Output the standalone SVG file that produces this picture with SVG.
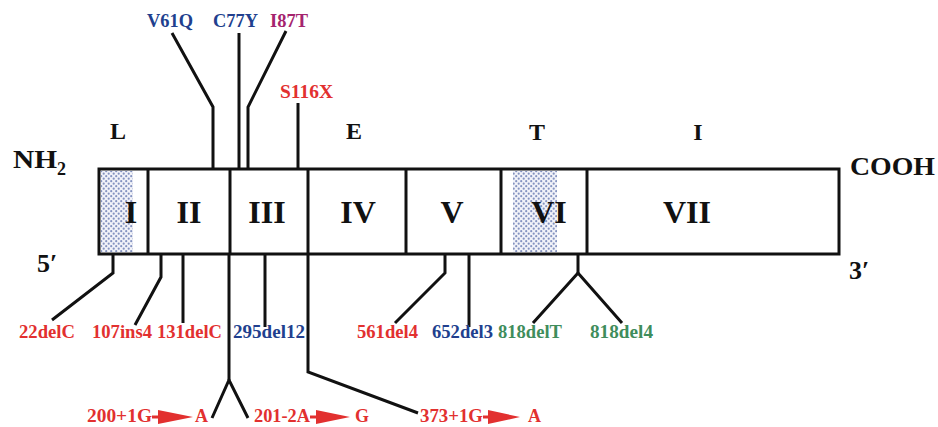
<svg xmlns="http://www.w3.org/2000/svg" width="938" height="427" viewBox="0 0 938 427">
  <defs>
    <pattern id="stipple" width="5" height="5" patternUnits="userSpaceOnUse">
      <rect width="5" height="5" fill="#f2f3f9"/>
      <circle cx="1.2" cy="1.2" r="1.1" fill="#8493c0"/>
      <circle cx="3.7" cy="3.7" r="1.1" fill="#8493c0"/>
    </pattern>
  </defs>
  <style>
    text { font-family: "Liberation Serif", "Times New Roman", serif; font-weight: bold; }
    .dom { font-size: 32px; fill: #111; text-anchor: middle; }
    .reg { font-size: 24px; fill: #111; text-anchor: middle; }
    .term { font-size: 26px; fill: #111; }
    .sub { font-size: 18px; fill: #111; }
    .mut { font-size: 18px; }
    .red { fill: #e2302f; }
    .blue { fill: #213f8e; }
    .mag { fill: #a5246e; }
    .green { fill: #3f8d5c; }
    .ln { fill: none; stroke: #111; stroke-width: 3; stroke-linejoin: miter; }
    .box { fill: #fff; stroke: #111; stroke-width: 3; }
    .arr { fill: #e2302f; }
    .arrl { stroke: #e2302f; stroke-width: 3; }
  </style>

  <!-- domain bar -->
  <g id="bar">
    <rect class="box" x="99" y="169" width="740" height="85"/>
    <rect x="101" y="171" width="32" height="81" fill="url(#stipple)"/>
    <rect x="513" y="171" width="44" height="81" fill="url(#stipple)"/>
    <g class="ln">
      <line x1="148" y1="169" x2="148" y2="254"/>
      <line x1="230" y1="169" x2="230" y2="254"/>
      <line x1="308" y1="169" x2="308" y2="254"/>
      <line x1="406" y1="169" x2="406" y2="254"/>
      <line x1="501" y1="169" x2="501" y2="254"/>
      <line x1="587" y1="169" x2="587" y2="254"/>
    </g>
  </g>
  <g id="exon-I"><text class="dom" x="131" y="223">I</text></g>
  <g id="exon-II"><text class="dom" x="189" y="223">II</text></g>
  <g id="exon-III"><text class="dom" x="267" y="223">III</text></g>
  <g id="exon-IV"><text class="dom" x="358" y="223">IV</text></g>
  <g id="exon-V"><text class="dom" x="452" y="223">V</text></g>
  <g id="exon-VI"><text class="dom" x="549" y="223">VI</text></g>
  <g id="exon-VII"><text class="dom" x="687" y="223">VII</text></g>

  <!-- region letters -->
  <g id="regions">
    <text class="reg" x="118" y="139">L</text>
    <text class="reg" x="354" y="139">E</text>
    <text class="reg" x="537" y="140">T</text>
    <text class="reg" x="698" y="140">I</text>
  </g>

  <!-- termini -->
  <g id="termini">
    <text class="term" x="13" y="168" textLength="44" lengthAdjust="spacingAndGlyphs">NH</text>
    <text class="sub" x="57" y="175">2</text>
    <text class="term" x="850" y="175" textLength="85" lengthAdjust="spacingAndGlyphs">COOH</text>
    <text class="term" x="37" y="272">5′</text>
    <text class="term" x="849" y="279">3′</text>
  </g>

  <!-- connectors -->
  <g id="connectors" class="ln">
    <polyline points="172,33 213,107 213,169"/>
    <line x1="239" y1="33" x2="239" y2="169"/>
    <polyline points="286,31 248,107 248,169"/>
    <line x1="298" y1="103" x2="298" y2="169"/>

    <polyline points="113,254 113,273 52,320"/>
    <polyline points="161,254 161,277 135,325"/>
    <line x1="183" y1="254" x2="183" y2="323"/>
    <polyline points="212,418 229,380 248,418"/>
    <line x1="229" y1="254" x2="229" y2="380"/>
    <line x1="265" y1="254" x2="265" y2="327"/>
    <polyline points="308,254 308,372 418,413"/>
    <polyline points="445,254 445,273 395,323"/>
    <line x1="469" y1="254" x2="469" y2="327"/>
    <line x1="578" y1="254" x2="578" y2="273"/>
    <polyline points="533,323 578,273 622,323"/>
  </g>

  <!-- mutation labels -->
  <g id="mut-top">
    <text class="mut blue" x="147" y="27" textLength="46" lengthAdjust="spacingAndGlyphs">V61Q</text>
    <text class="mut blue" x="213" y="27" textLength="45" lengthAdjust="spacingAndGlyphs">C77Y</text>
    <text class="mut mag" x="270" y="27" textLength="38" lengthAdjust="spacingAndGlyphs">I87T</text>
    <text class="mut red" x="280" y="98" textLength="53" lengthAdjust="spacingAndGlyphs">S116X</text>
  </g>
  <g id="mut-bottom">
    <text class="mut red" x="19" y="338" textLength="56" lengthAdjust="spacingAndGlyphs">22delC</text>
    <text class="mut red" x="92" y="338" textLength="60" lengthAdjust="spacingAndGlyphs">107ins4</text>
    <text class="mut red" x="157" y="338" textLength="65" lengthAdjust="spacingAndGlyphs">131delC</text>
    <text class="mut blue" x="233" y="338" textLength="72" lengthAdjust="spacingAndGlyphs">295del12</text>
    <text class="mut red" x="357" y="338" textLength="61" lengthAdjust="spacingAndGlyphs">561del4</text>
    <text class="mut blue" x="432" y="338" textLength="61" lengthAdjust="spacingAndGlyphs">652del3</text>
    <text class="mut green" x="498" y="338" textLength="64" lengthAdjust="spacingAndGlyphs">818delT</text>
    <text class="mut green" x="590" y="338" textLength="63" lengthAdjust="spacingAndGlyphs">818del4</text>
  </g>
  <g id="mut-splice">
    <text class="mut red" x="87" y="422" textLength="65" lengthAdjust="spacingAndGlyphs">200+1G</text>
    <line class="arrl" x1="152" y1="417" x2="160" y2="417"/>
    <polygon class="arr" points="158,410 193,417 158,424"/>
    <text class="mut red" x="195" y="422">A</text>

    <text class="mut red" x="254" y="422" textLength="56" lengthAdjust="spacingAndGlyphs">201-2A</text>
    <line class="arrl" x1="310" y1="417" x2="318" y2="417"/>
    <polygon class="arr" points="316,410 350,417 316,424"/>
    <text class="mut red" x="355" y="422">G</text>

    <text class="mut red" x="420" y="422" textLength="63" lengthAdjust="spacingAndGlyphs">373+1G</text>
    <line class="arrl" x1="483" y1="417" x2="490" y2="417"/>
    <polygon class="arr" points="488,410 520,417 488,424"/>
    <text class="mut red" x="528" y="422">A</text>
  </g>
</svg>
